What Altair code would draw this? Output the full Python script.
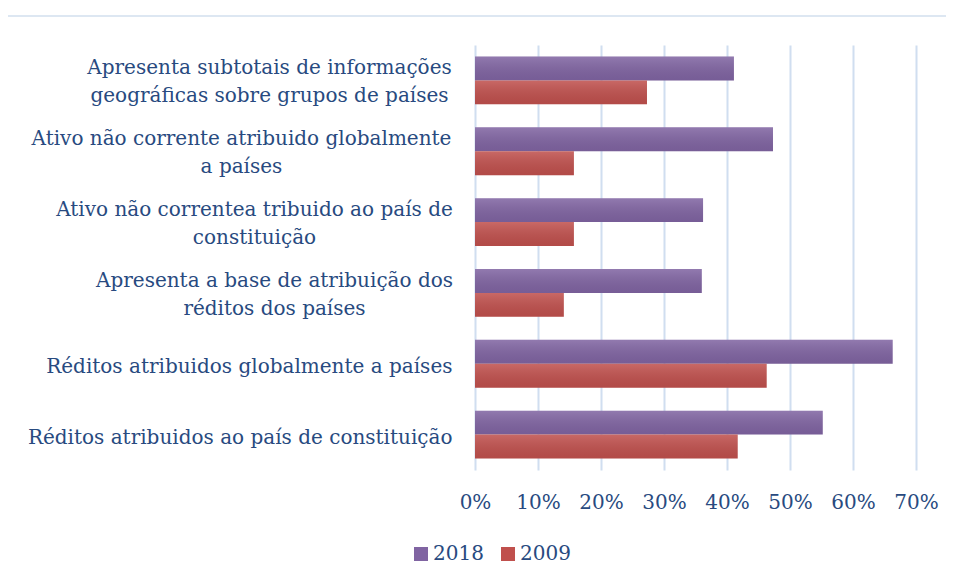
import altair as alt
import pandas as pd

categories = [
    "Apresenta subtotais de informações|geográficas sobre grupos de países",
    "Ativo não corrente atribuido globalmente|a países",
    "Ativo não correntea tribuido ao país de|constituição",
    "Apresenta a base de atribuição dos|réditos dos países",
    "Réditos atribuidos globalmente a países",
    "Réditos atribuidos ao país de constituição",
]
years = ["2018", "2009"]
values_2018 = [0.411, 0.473, 0.362, 0.360, 0.663, 0.552]
values_2009 = [0.273, 0.157, 0.157, 0.141, 0.463, 0.417]
x_ticks = [0, 0.1, 0.2, 0.3, 0.4, 0.5, 0.6, 0.7]

rows = []
for c, a, b in zip(categories, values_2018, values_2009):
    rows.append({"cat": c, "year": "2018", "value": a})
    rows.append({"cat": c, "year": "2009", "value": b})
df = pd.DataFrame(rows)

TEXT = "#284a80"
FONT = "DejaVu Serif"
FS = 20

# padding for the centered two-line labels (distance from axis to block centre)
pad_map = {
    categories[0]: 206,
    categories[1]: 234,
    categories[2]: 221,
    categories[3]: 201,
}
pad_conditions = [
    {"test": f"datum.value === {repr(k)}", "value": v} for k, v in pad_map.items()
]
multi_test = "indexof(datum.value, '|') >= 0"

y_axis = alt.Axis(
    title=None,
    domain=False,
    ticks=False,
    grid=False,
    labelFont=FONT,
    labelFontSize=FS,
    labelColor=TEXT,
    labelLineHeight=28,
    labelLimit=0,
    labelExpr="split(datum.label, '|')",
    labelAlign={"condition": {"test": multi_test, "value": "center"}, "value": "right"},
    labelPadding={"condition": pad_conditions, "value": 23},
    labelOffset={"condition": {"test": multi_test, "value": -12}, "value": 3},
)

x_axis = alt.Axis(
    title=None,
    domain=False,
    ticks=False,
    grid=True,
    gridColor="#d0def0",
    gridWidth=2,
    values=x_ticks,
    format=".0%",
    labelFont=FONT,
    labelFontSize=FS,
    labelColor=TEXT,
    labelPadding=22,
    labelFlush=False,
)

base = alt.Chart(df).encode(
    x=alt.X("value:Q", scale=alt.Scale(domain=[0, 0.7], nice=False), axis=x_axis),
    y=alt.Y(
        "cat:N",
        sort=categories,
        scale=alt.Scale(paddingInner=0.324, paddingOuter=0.162),
        axis=y_axis,
    ),
    yOffset=alt.YOffset("year:N", sort=years),
)

bars = base.mark_bar().encode(
    color=alt.Color(
        "year:N",
        sort=years,
        scale=alt.Scale(domain=years, range=["#8064a2", "#c0504d"]),
        legend=alt.Legend(
            title=None,
            orient="none",
            direction="horizontal",
            legendX=-64,
            legendY=499,
            symbolType="square",
            symbolSize=196,
            symbolStrokeWidth=0,
            labelFont=FONT,
            labelFontSize=FS,
            labelColor=TEXT,
            columnPadding=14,
            labelOffset=2,
        ),
    )
)

shade = base.mark_bar(
    color=alt.LinearGradient(
        gradient="linear",
        x1=0, y1=0, x2=0, y2=1,
        stops=[
            alt.GradientStop(offset=0, color="rgba(255,255,255,0.14)"),
            alt.GradientStop(offset=1, color="rgba(0,0,0,0.07)"),
        ],
    )
)

frame = alt.Chart(df).mark_rule(color="#dde7f2", strokeWidth=1.5).encode(
    x=alt.value(-470), x2=alt.value(500), y=alt.value(-29)
)

chart = (
    alt.layer(frame, bars, shade)
    .properties(
        width=441,
        height=425,
        autosize=alt.AutoSizeParams(type="none"),
        padding={"left": 467, "top": 37, "right": 30, "bottom": 110},
    )
    .configure_view(stroke=None)
)

chart.save("out.html", embed_options={"renderer": "svg", "actions": False})
